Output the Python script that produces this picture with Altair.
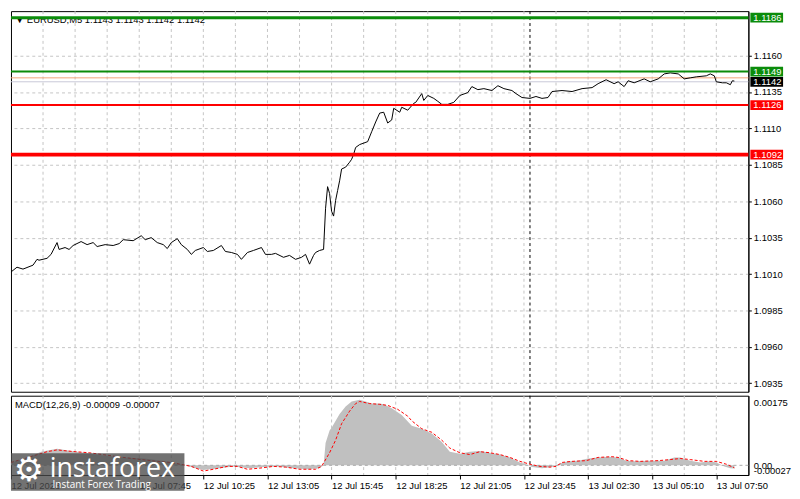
import json
import altair as alt
import pandas as pd

# ---------------- data ----------------
price_idx = [0, 3, 6, 11, 13, 14, 18, 20, 23, 24, 27, 29, 31, 35, 38, 41, 43, 47, 51, 54, 56, 61, 65, 67, 70,
             73, 76, 78, 80, 83, 85, 88, 90, 92, 96, 98, 101, 105, 107, 110, 113, 115, 118, 121, 125, 127, 130,
             132, 136, 139, 142, 145, 147, 149, 151, 152, 154, 156, 157, 158, 159, 160, 161, 162, 163, 164, 165,
             167, 169, 170, 171, 172, 174, 178, 180, 182, 184, 186, 188, 190, 191, 194, 195, 198, 201, 202, 205,
             206, 208, 211, 213, 215, 218, 221, 224, 228, 230, 233, 236, 240, 243, 246, 250, 252, 255, 259, 262,
             265, 268, 270, 275, 280, 285, 290, 293, 297, 301, 303, 306, 308, 311, 316, 319, 323, 326, 329, 333,
             336, 339, 342, 347, 349, 351, 352, 355, 357, 359, 360, 361]
price_close = [1.10114, 1.10147, 1.10134, 1.10161, 1.10201, 1.10195, 1.10208, 1.10235, 1.10316, 1.10269,
               1.10282, 1.10269, 1.10296, 1.10323, 1.10302, 1.10316, 1.10289, 1.10302, 1.10296, 1.10309,
               1.10336, 1.10329, 1.10363, 1.10336, 1.10350, 1.10316, 1.10302, 1.10275, 1.10316, 1.10343,
               1.10302, 1.10269, 1.10235, 1.10262, 1.10282, 1.10255, 1.10262, 1.10296, 1.10255, 1.10248,
               1.10235, 1.10201, 1.10248, 1.10262, 1.10282, 1.10235, 1.10235, 1.10242, 1.10215, 1.10228,
               1.10201, 1.10215, 1.10235, 1.10168, 1.10228, 1.10248, 1.10262, 1.10269, 1.10552, 1.10700,
               1.10653, 1.10531, 1.10498, 1.10605, 1.10673, 1.10740, 1.10821, 1.10834, 1.10868, 1.10888,
               1.10922, 1.10969, 1.10989, 1.11009, 1.11077, 1.11144, 1.11205, 1.11211, 1.11137, 1.11158,
               1.11238, 1.11211, 1.11245, 1.11225, 1.11272, 1.11279, 1.11339, 1.11292, 1.11326, 1.11306,
               1.11286, 1.11265, 1.11265, 1.11279, 1.11326, 1.11346, 1.11387, 1.11366, 1.11373, 1.11360,
               1.11393, 1.11373, 1.11360, 1.11339, 1.11312, 1.11306, 1.11319, 1.11306, 1.11312, 1.11353,
               1.11360, 1.11353, 1.11373, 1.11380, 1.11407, 1.11434, 1.11407, 1.11420, 1.11387, 1.11427,
               1.11413, 1.11440, 1.11420, 1.11440, 1.11474, 1.11481, 1.11474, 1.11440, 1.11447, 1.11454,
               1.11461, 1.11474, 1.11461, 1.11420, 1.11413, 1.11413, 1.11400, 1.11427, 1.11425]

# MACD main (histogram), units of 1e-5
macd_idx = [0, 8, 15, 23, 30, 37, 47, 57, 67, 77, 87, 92, 96, 104, 111, 119, 126, 133, 141, 148, 154, 156,
            157, 159, 160, 164, 167, 170, 174, 177, 180, 184, 186, 190, 195, 200, 205, 210, 215, 219, 224, 229,
            234, 239, 244, 249, 254, 257, 260, 265, 270, 274, 278, 283, 288, 293, 298, 303, 307, 311, 319, 326,
            331, 334, 339, 344, 349, 352, 356, 359, 361]
macd_main = [8, 21, 38, 46, 40, 35, 27, 22, 19, 11, 0, -8, -13, -8, -3, -8, -5, -3, -8, -11, -8, 0,
             62, 97, 105, 143, 164, 178, 183, 178, 172, 172, 170, 159, 140, 110, 102, 89, 65, 38, 32, 38,
             40, 35, 30, 22, 8, 3, -5, -8, -5, 5, 11, 13, 19, 22, 24, 22, 13, 11, 13, 13,
             22, 22, 13, 8, 11, 8, -3, -8, -9]

# MACD signal line, units of 1e-5
signal_idx = [0, 8, 18, 23, 28, 32, 39, 56, 73, 80, 90, 96, 101, 108, 113, 118, 124, 131, 137, 144, 152,
              155, 159, 162, 165, 169, 172, 174, 179, 184, 188, 193, 198, 200, 205, 210, 215, 219, 224, 229,
              234, 239, 244, 249, 254, 259, 264, 269, 272, 275, 280, 287, 293, 300, 303, 308, 314, 323, 329,
              334, 339, 346, 352, 357, 361]
signal_vals = [8, 21, 38, 43, 40, 38, 35, 22, 11, 8, -3, -16, -11, -3, -3, -11, -8, -3, -5, -11, -11,
               -3, 35, 70, 116, 151, 172, 178, 172, 170, 167, 156, 137, 124, 102, 92, 70, 48, 35, 30,
               38, 35, 30, 22, 11, 3, -3, -5, -3, 8, 11, 13, 22, 24, 22, 13, 11, 13, 16,
               19, 16, 11, 11, 3, -7]

price_ticks = [1.0935, 1.0960, 1.0985, 1.1010, 1.1035, 1.1060, 1.1085, 1.1110, 1.1135, 1.1160]
level_prices = [1.1186, 1.1149, 1.1126, 1.1092]
level_colors = ["#0b8c0b", "#0b8c0b", "#ff0000", "#ff0000"]
level_widths = [3, 2, 2, 4]
thin_prices = [1.11447, 1.1142]
thin_colors = ["#f2a478", "#c8c8d8"]
tag_prices = [1.1186, 1.1149, 1.1142, 1.1126, 1.1092]
tag_colors = ["#0b8c0b", "#0b8c0b", "#000000", "#ff0000", "#ff0000"]
time_pos = [0, 64, 96, 128, 160, 192, 224, 256, 288, 320, 352]
time_labels = ["12 Jul 2023", "12 Jul 07:45", "12 Jul 10:25", "12 Jul 13:05",
               "12 Jul 15:45", "12 Jul 18:25", "12 Jul 21:05", "12 Jul 23:45", "13 Jul 02:30",
               "13 Jul 05:10", "13 Jul 07:50"]
grid_pos = [16, 32, 48, 64, 80, 96, 112, 128, 144, 160, 176, 192, 208, 224, 240, 256, 272, 288, 304,
            320, 336, 352]
day_separator = [259]
macd_axis_vals = [0.00175, 0.0, -0.00027]
macd_axis_labels = ["0.00175", "0.00", "-0.00027"]
header_text = "\u25bc EURUSD,M5  1.1143 1.1143 1.1142 1.1142"
macd_text = "MACD(12,26,9) -0.00009 -0.00007"

# ---------------- layout ----------------
W = 744
H_MAIN = 384
H_MACD = 80
FONT = "Liberation Sans"
GRID = "#c4c4c4"

xs = alt.Scale(domain=[0, 368], nice=False, zero=False)
ys = alt.Scale(domain=[1.09292, 1.11905], nice=False, zero=False)
ms = alt.Scale(domain=[-0.00027, 0.00194], nice=False, zero=False)

y_axis = alt.Axis(orient="right", values=price_ticks, format=".4f", grid=True, gridDash=[3, 3],
                  gridColor=GRID, tickSize=3, labelPadding=2, domainColor="black", tickColor="black",
                  title=None, labelOverlap=False)
x_lbl_expr = f"{json.dumps(time_labels)}[indexof({json.dumps(time_pos)}, datum.value)]"
x_axis_m = alt.Axis(values=time_pos, labelExpr=x_lbl_expr, labelAlign="left", labelBaseline="top",
                    tickSize=4, labelPadding=2, grid=False, domainColor="black", tickColor="black",
                    title=None, labelOverlap=False, labelBound=False, labelFlush=False)
m_lbl_expr = f"{json.dumps(macd_axis_labels)}[indexof({json.dumps(macd_axis_vals)}, datum.value)]"
y_axis_m = alt.Axis(orient="right", values=macd_axis_vals, labelExpr=m_lbl_expr, grid=False,
                    tickSize=0, labelPadding=5, labelOverlap=False, labelFlush=True,
                    domainColor="black", title=None)


def XM(field):
    return alt.X(field, type="quantitative", scale=xs, axis=None)


def YM(field):
    return alt.Y(field, type="quantitative", scale=ys, axis=y_axis)


def XB(field):
    return alt.X(field, type="quantitative", scale=xs, axis=x_axis_m)


def YB(field):
    return alt.Y(field, type="quantitative", scale=ms, axis=y_axis_m)


price_df = pd.DataFrame({"i": price_idx, "p": price_close})
grid_df = pd.DataFrame({"i": grid_pos})
sep_df = pd.DataFrame({"i": day_separator})
lvl_df = pd.DataFrame({"p": level_prices, "c": level_colors, "w": level_widths})
thin_df = pd.DataFrame({"p": thin_prices, "c": thin_colors})
tag_df = pd.DataFrame({"p": tag_prices, "c": tag_colors, "t": [f"{v:.4f}" for v in tag_prices]})
one = pd.DataFrame({"a": [0]})

# ---------------- main price panel ----------------
vgrid = alt.Chart(grid_df).mark_rule(color=GRID, strokeDash=[3, 3], strokeWidth=1).encode(x=XM("i"))
sep = alt.Chart(sep_df).mark_rule(color="black", strokeDash=[3, 3], strokeWidth=1).encode(x=XM("i"))
header = alt.Chart(one).mark_text(align="left", baseline="middle", font=FONT, fontSize=9.5,
                                  color="black").encode(
    x=alt.value(4), y=alt.value(9), text=alt.value(header_text))
thin = alt.Chart(thin_df).mark_rule(strokeWidth=1).encode(
    y=YM("p"), color=alt.Color("c:N", scale=None))
line = alt.Chart(price_df).mark_line(color="black", strokeWidth=1).encode(x=XM("i"), y=YM("p"))
levels = alt.Chart(lvl_df).mark_rule().encode(
    y=YM("p"), color=alt.Color("c:N", scale=None), strokeWidth=alt.StrokeWidth("w:Q", scale=None))
tags = alt.Chart(tag_df).mark_point(
    shape="M-1,-0.3L1,-0.3L1,0.3L-1,0.3Z", filled=True, size=1089, opacity=1, strokeWidth=0
).encode(x=alt.value(W + 18.5), y=YM("p"), fill=alt.Fill("c:N", scale=None))
tag_txt = alt.Chart(tag_df).mark_text(align="left", baseline="middle", font=FONT, fontSize=9.5,
                                      color="white").encode(
    x=alt.value(W + 5), y=YM("p"), text="t:N")

main = alt.layer(vgrid, sep, header, thin, line, levels, tags, tag_txt).properties(
    width=W, height=H_MAIN)

# ---------------- MACD panel ----------------
hist_df = pd.DataFrame({"i": macd_idx, "v": [m * 1e-5 for m in macd_main]})
sig_df = pd.DataFrame({"i": signal_idx, "v": [s * 1e-5 for s in signal_vals]})
zero_df = pd.DataFrame({"v": [0.0]})

vgrid_m = alt.Chart(grid_df).mark_rule(color=GRID, strokeDash=[3, 3], strokeWidth=1).encode(x=XB("i"))
sep_m = alt.Chart(sep_df).mark_rule(color="black", strokeDash=[3, 3], strokeWidth=1).encode(x=XB("i"))
hist = alt.Chart(hist_df).mark_area(color="#c0c0c0", opacity=1).encode(
    x=XB("i"), y=YB("v"), y2=alt.datum(0))
zero = alt.Chart(zero_df).mark_rule(color="#a8a8a8", strokeDash=[3, 3], strokeWidth=1).encode(y=YB("v"))
sig = alt.Chart(sig_df).mark_line(color="#ff0000", strokeDash=[3, 2], strokeWidth=1).encode(
    x=XB("i"), y=YB("v"))
macd_lbl = alt.Chart(one).mark_text(align="left", baseline="middle", font=FONT, fontSize=9.5,
                                    color="black").encode(
    x=alt.value(4), y=alt.value(9), text=alt.value(macd_text))

# instaforex watermark
logo_box = alt.Chart(one).mark_rect(color="#4a4a4a", opacity=0.78).encode(
    x=alt.value(0), x2=alt.value(175), y=alt.value(58), y2=alt.value(96))
logo_gear = alt.Chart(one).mark_text(align="center", baseline="middle", font="DejaVu Sans",
                                     fontSize=34, color="white").encode(
    x=alt.value(18), y=alt.value(76), text=alt.value("\u2699"))
logo_big = alt.Chart(one).mark_text(align="left", baseline="alphabetic", font="Open Sans",
                                    fontSize=27, color="white").encode(
    x=alt.value(39), y=alt.value(82), text=alt.value("instaforex"))
logo_small = alt.Chart(one).mark_text(align="left", baseline="middle", font="Open Sans",
                                      fontSize=10, color="white").encode(
    x=alt.value(42), y=alt.value(90), text=alt.value("Instant Forex Trading"))

macd = alt.layer(vgrid_m, sep_m, hist, zero, sig, macd_lbl,
                 logo_box, logo_gear, logo_big, logo_small).properties(width=W, height=H_MACD)

chart = alt.vconcat(main, macd, spacing=2).properties(
    padding=0, background="white"
).configure_view(stroke="black", strokeWidth=1).configure_axis(
    labelFont=FONT, labelFontSize=9.5, labelColor="black")

chart.save("out.html", embed_options={"renderer": "svg", "actions": False})
